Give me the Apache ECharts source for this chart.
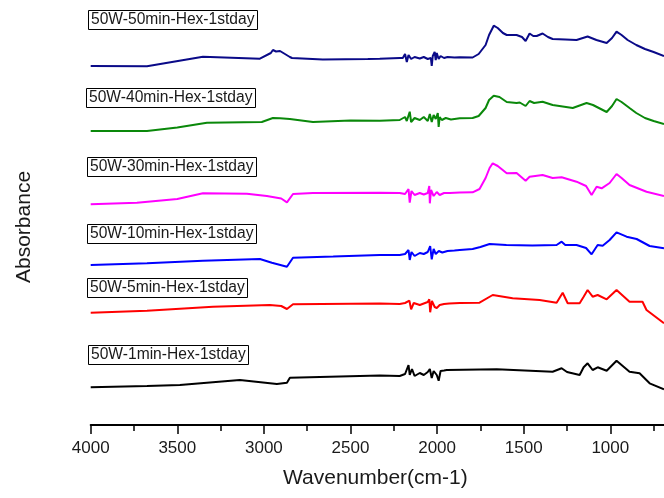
<!DOCTYPE html>
<html>
<head>
<meta charset="utf-8">
<script src="https://cdn.jsdelivr.net/npm/echarts@6/dist/echarts.min.js"></script>
<style>html,body{margin:0;padding:0;background:#fff;}#c{width:664px;height:498px;}</style>
</head>
<body>
<div id="c"></div>
<script>
// Wavenumber ticks shown on the axis
const xTicks = [4000, 3500, 3000, 2500, 2000, 1500, 1000];
const xMinorTicks = [3750, 3250, 2750, 2250, 1750, 1250, 750];
const seriesNames = ['50W-50min-Hex-1stday','50W-40min-Hex-1stday','50W-30min-Hex-1stday','50W-10min-Hex-1stday','50W-5min-Hex-1stday','50W-1min-Hex-1stday'];
const seriesColors = ['#0a0a88','#0a880a','#ff00ff','#0000ff','#ff0000','#000000'];

// Each spectrum: [wavenumber, absorbance (arbitrary units, stacked offset)]
const s50 = [[4000,359],[3675,358.7],[3352,368.3],[3023,366.3],[3012,366.5],[2960,372],[2948,375],[2930,373.5],[2907,374],[2850,368],[2838,367],[2660,365.5],[2400,366],[2331,366.3],
 [2216,367],[2198,367],[2185,371],[2175,363],[2165,370],[2150,366],[2130,368],[2100,366.5],[2077,368],[2054,366],[2036,367],[2031,359],[2025,369],[2014,373],[2008,365],[2002,372],[1991,366],[1980,369],[1960,367],[1940,368],[1900,367.5],[1869,367.7],
 [1795,367.5],[1760,371],[1720,380],[1700,390],[1673,399.3],[1650,397],[1620,392],[1598,390],[1541,390],[1510,388],[1489,384],[1466,391.5],[1445,389],[1425,389],[1391,391.5],[1360,388],[1333,386],[1260,385.5],[1195,385],[1131,388.5],[1080,385],[1021,382],[990,387],[964,393.3],[935,390],[900,385],[850,380],[800,376],[750,373],[690,369]];

const s40 = [[4000,294],[3675,294],[3500,297.5],[3329,302.3],[3012,303],[2948,307],[2907,306.7],[2850,306],[2717,303],[2500,304.5],[2331,304.3],
 [2216,305],[2185,308],[2175,304],[2158,313.3],[2150,303],[2130,307],[2100,305],[2077,308],[2054,304],[2042,311],[2031,303],[2020,310],[2008,306],[1996,312],[1991,298],[1985,308],[1973,305],[1950,307],[1920,305.5],[1869,306.7],
 [1795,307],[1760,309],[1720,317],[1700,325],[1673,329.3],[1640,328],[1598,323],[1541,322],[1523,322.5],[1489,319],[1466,324],[1440,322],[1391,323.3],[1333,320],[1217,317],[1137,322],[1100,320],[1021,313],[990,319],[964,326],[935,323],[889,317],[850,312],[800,307],[750,304],[690,301]];

const s30 = [[4000,220.7],[3733,222.3],[3500,226],[3352,231.7],[3098,231.3],[2983,229],[2900,226.5],[2867,222.7],[2832,231],[2717,232],[2331,232.3],
 [2216,232],[2185,231],[2165,236],[2158,222.3],[2148,234],[2130,230],[2100,232],[2077,230.5],[2054,232],[2045,239],[2042,221.7],[2035,235],[2020,229],[2002,233],[1985,230],[1960,232],[1927,232],[1869,232.5],
 [1795,232.7],[1755,236],[1720,247],[1697,257],[1679,261.7],[1650,259],[1598,251.7],[1541,252],[1489,244.3],[1466,248.3],[1391,250],[1333,247],[1281,247.7],[1195,243.3],[1140,239],[1108,230],[1079,238.3],[1050,236.7],[1004,242],[964,251],[935,247],[889,240],[791,233.3],[690,229]];

const s10 = [[4000,160],[3675,161.7],[3352,164.3],[3023,166],[2954,162.3],[2867,158.3],[2832,167.3],[2600,168.5],[2331,170],
 [2216,170],[2185,171],[2165,175],[2158,165],[2148,173],[2130,169],[2100,172],[2077,171],[2054,173],[2040,179],[2031,165.7],[2020,176],[2008,171],[1990,174],[1970,172.5],[1940,174],[1900,174.5],[1869,175],
 [1795,176],[1750,178],[1697,181],[1600,180],[1450,179.5],[1310,180],[1281,183.3],[1260,180],[1195,180],[1140,177],[1108,170.7],[1073,180],[1044,179.3],[1004,185],[964,192.7],[906,188.3],[848,186],[773,179],[690,176.7]];

const s5 = [[4000,112.3],[3675,114.3],[3294,118.3],[2966,120],[2900,119],[2867,116],[2832,120.7],[2331,121.5],
 [2216,121],[2185,122],[2160,124.3],[2150,115.7],[2135,122],[2100,120],[2077,121.5],[2054,123],[2045,125.7],[2040,112.7],[2030,124],[2014,118],[2002,117],[1985,120],[1960,121],[1930,121.5],[1869,122],
 [1755,122.3],[1679,130],[1564,126.7],[1408,125],[1310,122.3],[1275,132.3],[1246,121.7],[1177,121.7],[1154,128.3],[1131,135],[1102,128.3],[1073,130],[1021,125.7],[964,135],[889,123.3],[814,123.3],[791,115],[690,101.7]];

const s1 = [[4000,37.7],[3675,39],[3485,40],[3139,45],[2925,41],[2867,42.3],[2850,47.3],[2331,49.5],
 [2216,49],[2185,51],[2165,60],[2158,50],[2145,56],[2130,49],[2100,52],[2077,50],[2054,53],[2042,56],[2031,47],[2020,54],[2002,50],[1991,44.3],[1980,54],[1960,54.5],[1944,55],
 [1656,55.7],[1333,53.3],[1281,56.7],[1250,53],[1177,50],[1154,57.7],[1131,61.7],[1102,55],[1073,57.7],[1021,54.3],[964,64.3],[889,53.3],[831,51.7],[773,41.7],[690,35.7]];

const spectra = [s50, s40, s30, s10, s5, s1];
const labelPos = [[88,10],[86,88],[87,157],[87,224],[87,278],[88,345]];

const FONT = 'Liberation Sans, Arial, sans-serif';
const X_MIN = 690, X_MAX = 4000;
const chart = echarts.init(document.getElementById('c'), null, {renderer:'canvas'});
chart.setOption({
  animation: false,
  backgroundColor: '#fff',
  title: seriesNames.map((n,i)=>({
    text: n, left: labelPos[i][0], top: labelPos[i][1],
    padding: [2,3], borderColor: '#000', borderWidth: 1,
    textStyle: {fontSize: 15.6, fontWeight: 'normal', color: '#1a1a1a', fontFamily: FONT}
  })),
  grid: {left: 90.7, right: 0, top: 0, height: 425, containLabel: false, outerBoundsMode: 'none'},
  xAxis: [{
    type: 'value', inverse: true, min: X_MIN, max: X_MAX,
    axisLine: {show: true, lineStyle: {color: '#000', width: 2}},
    axisTick: {show: true, inside: false, length: 9, customValues: xTicks, lineStyle: {color: '#000', width: 1.5}},
    splitLine: {show: false},
    axisLabel: {fontSize: 17, color: '#1a1a1a', fontFamily: FONT, margin: 15, customValues: xTicks,
      formatter: v => String(v), showMinLabel: true, showMaxLabel: true}
  },{
    type: 'value', inverse: true, min: X_MIN, max: X_MAX, position: 'bottom',
    axisLine: {show: false},
    axisTick: {show: true, inside: false, length: 6, customValues: xMinorTicks, lineStyle: {color: '#000', width: 1.5}},
    axisLabel: {show: false}, splitLine: {show: false}
  }],
  yAxis: {type: 'value', min: 0, max: 425, show: false},
  graphic: [
    {type:'text', left: 283, top: 468, style:{text:'Wavenumber(cm-1)', fill:'#1a1a1a', font: '21px Liberation Sans, Arial, sans-serif'}},
    {type:'text', x: 14, y: 283, rotation: Math.PI/2, style:{text:'Absorbance', fill:'#1a1a1a', font: '21px Liberation Sans, Arial, sans-serif'}}
  ],
  series: spectra.map((d,i)=>({
    type: 'line', name: seriesNames[i], data: d, showSymbol: false, symbol: 'none', xAxisIndex: 0,
    lineStyle: {color: seriesColors[i], width: 2}, itemStyle: {color: seriesColors[i]}, clip: true
  }))
});
</script>
</body>
</html>
